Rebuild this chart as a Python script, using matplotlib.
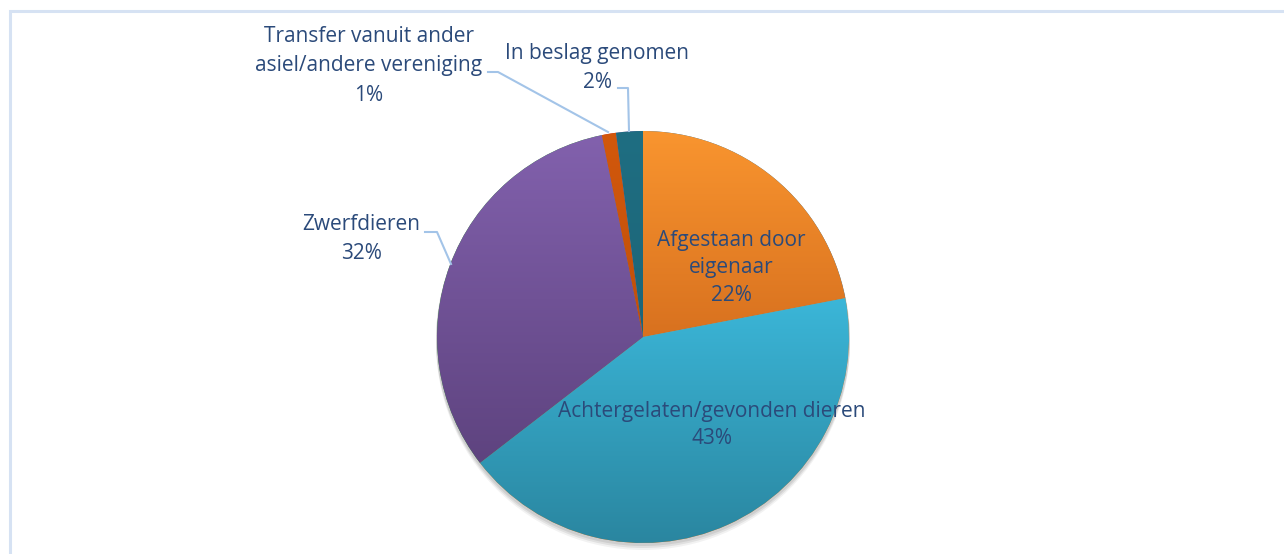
import numpy as np
import matplotlib
matplotlib.use("Agg")
import matplotlib.pyplot as plt
from matplotlib.patches import Circle, Rectangle
from matplotlib.colors import LinearSegmentedColormap

# data
categories = ["Afgestaan door\neigenaar", "Achtergelaten/gevonden dieren", "Zwerfdieren",
              "Transfer vanuit ander\nasiel/andere vereniging", "In beslag genomen"]
values = [22.0, 42.6, 32.3, 1.1, 2.1]
pct_labels = ["22%", "43%", "32%", "1%", "2%"]
top_colors = ["#F9952F", "#3BB6D8", "#8261AD", "#D2580C", "#1F6E82"]
bottom_colors = ["#D8711F", "#2A86A0", "#5E437F", "#C0500A", "#1C6578"]

W, H = 1284, 554
fig = plt.figure(figsize=(W / 100, H / 100), dpi=100)
ax = fig.add_axes([0, 0, 1, 1])
ax.set_xlim(0, W)
ax.set_ylim(0, H)
ax.set_aspect("equal")
ax.axis("off")

text_color = "#2B4A7A"
line_color = "#A3C4E8"
font = "Open Sans"

cx, cy, r = 643, 554 - 337, 206

# chart frame
ax.add_patch(Rectangle((9.5, -20), W + 20, H - 10.5 + 20, fill=False,
                       edgecolor="#D6E2F3", lw=2.2))

# soft shadow
for k, a in [(6, 0.05), (4, 0.07), (2, 0.08)]:
    ax.add_patch(Circle((cx, cy - k), r + 1, color="#000000", alpha=a, lw=0, zorder=1))

wedges, _ = ax.pie(values, startangle=90, counterclock=False, center=(cx, cy),
                   radius=r, frame=True, wedgeprops=dict(linewidth=0, zorder=2))
ax.set_xlim(0, W)
ax.set_ylim(0, H)
ax.axis("off")

# gradient fill for every slice
for w, c1, c2 in zip(wedges, top_colors, bottom_colors):
    bb = w.get_path().get_extents(w.get_patch_transform())
    cmap = LinearSegmentedColormap.from_list("g", [c2, c1])
    grad = np.linspace(0, 1, 256).reshape(-1, 1)
    im = ax.imshow(grad, cmap=cmap, extent=[bb.x0, bb.x1, bb.y0, bb.y1],
                   origin="lower", aspect="auto", zorder=3)
    im.set_clip_path(w)
ax.set_xlim(0, W)
ax.set_ylim(0, H)

fs = 15.0
ls_in = 1.43
ls_out = 1.55
# inside labels
ax.text(731, H - 268, categories[0] + "\n" + pct_labels[0], ha="center", va="center",
        fontsize=fs, color=text_color, family=font, linespacing=ls_in, zorder=5)
ax.text(712, H - 425, categories[1] + "\n" + pct_labels[1], ha="center", va="center",
        fontsize=fs, color=text_color, family=font, linespacing=ls_in, zorder=5)

# outside labels
ax.text(361, H - 239, categories[2] + "\n" + pct_labels[2], ha="center", va="center",
        fontsize=fs, color=text_color, family=font, linespacing=ls_out, zorder=5)
ax.text(369, H - 66, categories[3] + "\n" + pct_labels[3], ha="center", va="center",
        fontsize=fs, color=text_color, family=font, linespacing=ls_out, zorder=5)
ax.text(597, H - 68, categories[4] + "\n" + pct_labels[4], ha="center", va="center",
        fontsize=fs, color=text_color, family=font, linespacing=ls_out, zorder=5)

# leader lines
ax.plot([425, 437, 451], [H - 232, H - 232, H - 264], color=line_color, lw=1.5, zorder=4)
ax.plot([488, 498, 608], [H - 72, H - 72, H - 132], color=line_color, lw=1.5, zorder=4)
ax.plot([618, 628, 629], [H - 88, H - 88, H - 131], color=line_color, lw=1.5, zorder=4)

fig.savefig("out.png", dpi=100, facecolor="white")
